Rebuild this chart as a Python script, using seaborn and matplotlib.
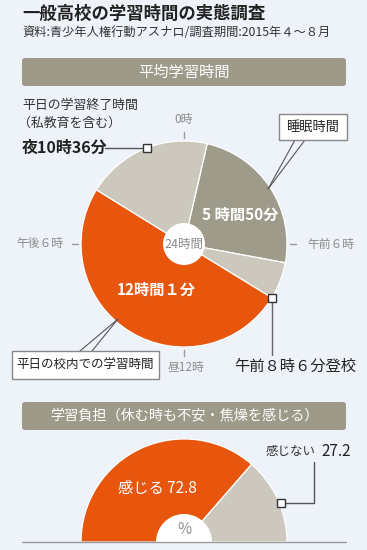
import numpy as np
import matplotlib
matplotlib.use("Agg")
import matplotlib.pyplot as plt
from matplotlib.patches import FancyBboxPatch, Rectangle, Circle
import seaborn as sns

# ---------------- data ----------------
title = "一般高校の学習時間の実態調査"
source = "資料:青少年人権行動アスナロ/調査期間:2015年４～８月"
header1 = "平均学習時間"
header2 = "学習負担（休む時も不安・焦燥を感じる）"

clock_segments = ["睡眠時間", "朝", "平日の校内での学習時間", "夜"]
clock_minutes = [350, 84, 721, 285]          # 5h50m, 1h24m, 12h01m, 4h45m
clock_start_min = 52                           # sleep starts ~0:52
study_end_min = 22 * 60 + 36                   # 夜10時36分
sleep_text = "5 時間50分"
school_text = "12時間１分"
study_end_text = "夜10時36分"
school_start_text = "午前８時６分登校"
hour_ticks = [0, 6, 12, 18]
hour_tick_labels = ["0時", "午前６時", "昼12時", "午後６時"]

burden_labels = ["感じる", "感じない"]
burden_values = [72.8, 27.2]

# ---------------- style ----------------
sns.set_theme(style="white")
plt.rcParams["font.family"] = ["Noto Sans CJK JP", "DejaVu Sans"]

BG = "#EEF2F9"
ORANGE = "#E8560E"
DARK = "#9E9B8A"
LIGHT = "#CCC8BD"
HEAD = "#9D9A89"
GRAYTXT = "#8C8C8C"
INK = "#222222"

W, H = 367, 550
fig = plt.figure(figsize=(W / 100, H / 100), dpi=100, facecolor=BG)
ax = fig.add_axes([0, 0, 1, 1])
ax.set_facecolor(BG)


def Y(y):
    return H - y


def clock_xy(cx, cy, r, minutes):
    a = np.deg2rad(90 - minutes / 1440 * 360)
    return cx + r * np.cos(a), cy + r * np.sin(a)


# ---------------- titles ----------------
ax.text(22, Y(14), title, fontsize=12.5, fontweight="bold", color=INK, ha="left", va="center")
ax.text(22, Y(33), source, fontsize=8.8, color="#333333", ha="left", va="center")


def header(y0, y1, text, fs):
    ax.add_patch(FancyBboxPatch((22, Y(y1)), 324, y1 - y0,
                                boxstyle="round,pad=0,rounding_size=3",
                                fc=HEAD, ec="none"))
    ax.text(184, Y((y0 + y1) / 2), text, fontsize=fs, color="white", ha="center", va="center")


header(58, 86, header1, 11)
header(402, 430, header2, 10.2)

# ---------------- clock pie ----------------
cx, cy, R = 184, Y(244), 103
start_angle = 90 - clock_start_min / 1440 * 360
wedges, _ = ax.pie(clock_minutes, colors=[DARK, LIGHT, ORANGE, LIGHT],
                   startangle=start_angle, counterclock=False,
                   center=(cx, cy), radius=R,
                   wedgeprops=dict(edgecolor="white", linewidth=0.9))
ax.add_patch(Circle((cx, cy), 21, fc="white", ec="none", zorder=3))
ax.text(cx, cy, "24時間", fontsize=9, color=GRAYTXT, ha="center", va="center", zorder=4)

# hour ticks
for h, lab in zip(hour_ticks, hour_tick_labels):
    m = h * 60
    x0, y0 = clock_xy(cx, cy, R + 3, m)
    x1, y1 = clock_xy(cx, cy, R + 9, m)
    ax.plot([x0, x1], [y0, y1], color="#999999", lw=1)
    lx, ly = clock_xy(cx, cy, R + 20, m)
    if h == 0:
        ax.text(lx, ly + 2, lab, fontsize=8.5, color=GRAYTXT, ha="center", va="center")
    elif h == 6:
        ax.text(lx, ly, lab, fontsize=8.5, color=GRAYTXT, ha="left", va="center")
    elif h == 12:
        ax.text(lx + 2, ly, lab, fontsize=8.5, color=GRAYTXT, ha="center", va="center")
    else:
        ax.text(lx + 2, ly, lab, fontsize=8.5, color=GRAYTXT, ha="right", va="center")

# segment value labels
ax.text(240, Y(215), sleep_text, fontsize=11, fontweight="bold", color="white", ha="center", va="center")
ax.text(156, Y(290), school_text, fontsize=11, fontweight="bold", color="white", ha="center", va="center")

# sleep callout
ax.plot([295, 268], [Y(140), Y(189)], color="#555555", lw=0.8)
ax.plot([305, 268], [Y(140), Y(189)], color="#555555", lw=0.8)
ax.add_patch(Rectangle((279, Y(140)), 68, 26, fc="white", ec="#888888", lw=1, zorder=5))
ax.text(313, Y(127), clock_segments[0], fontsize=9.5, color=INK, ha="center", va="center", zorder=6)

# school callout
ax.plot([80, 118], [Y(351), Y(319)], color="#555555", lw=0.8)
ax.plot([92, 118], [Y(351), Y(319)], color="#555555", lw=0.8)
ax.add_patch(Rectangle((12, Y(379)), 147, 28, fc="white", ec="#888888", lw=1, zorder=5))
ax.text(85.5, Y(365), clock_segments[2], fontsize=9, color=INK, ha="center", va="center", zorder=6)

# study end marker
ex, ey = clock_xy(cx, cy, R, study_end_min)
ax.plot([105, ex], [ey, ey], color="#555555", lw=1)
ax.plot([ex], [ey], marker="s", ms=5.5, mfc="white", mec="#333333", mew=1, zorder=6)
ax.text(22, ey, study_end_text, fontsize=11.5, fontweight="bold", color=INK, ha="left", va="center")
ax.text(22, Y(105), "平日の学習終了時間", fontsize=9.3, color="#333333", ha="left", va="center")
ax.text(18, Y(123), "（私教育を含む）", fontsize=9.3, color="#333333", ha="left", va="center")

# school start marker
school_start_min = clock_start_min + clock_minutes[0] + clock_minutes[1]
sx, sy = clock_xy(cx, cy, R, school_start_min)
ax.plot([sx, sx], [sy, Y(355)], color="#666666", lw=1)
ax.plot([sx], [sy], marker="s", ms=5.5, mfc="white", mec="#333333", mew=1, zorder=6)
ax.text(295, Y(366), school_start_text, fontsize=11, color=INK, ha="center", va="center")

# ---------------- burden half pie ----------------
bx, by, BR = 184, Y(542), 103
bw, _ = ax.pie(burden_values + [sum(burden_values)], colors=[ORANGE, LIGHT, "none"],
               startangle=180, counterclock=False, center=(bx, by), radius=BR,
               wedgeprops=dict(edgecolor="white", linewidth=0.9))
bw[2].set_edgecolor("none")
ax.add_patch(Circle((bx, by), 28, fc="white", ec="none", zorder=3))
ax.add_patch(Rectangle((0, 0), W, by, fc=BG, ec="none", zorder=3.5))
ax.plot([22, 346], [by, by], color="#999999", lw=1, zorder=4)
ax.text(bx, Y(530), "%", fontsize=11, color=GRAYTXT, ha="center", va="center", zorder=5)

ax.text(157, Y(488), f"{burden_labels[0]} {burden_values[0]}", fontsize=11, color="white",
        ha="center", va="center")

# marker for gray wedge
tot = sum(burden_values) * 2
mid_deg = 180 - (burden_values[0] + burden_values[1] * 0.55) / tot * 360
mx = bx + (BR + 2) * np.cos(np.deg2rad(mid_deg))
my = by + (BR + 2) * np.sin(np.deg2rad(mid_deg))
ax.plot([mx, 314, 314], [my, my, Y(462)], color="#555555", lw=1)
ax.plot([mx], [my], marker="s", ms=5.5, mfc="white", mec="#333333", mew=1, zorder=6)
ax.text(316, Y(452), burden_labels[1], fontsize=9, color="#333333", ha="right", va="center")
ax.text(321, Y(452), f"{burden_values[1]}", fontsize=11, color=INK, ha="left", va="center")

ax.set_xlim(0, W)
ax.set_ylim(0, H)
ax.set_aspect("equal")
ax.axis("off")

fig.savefig("out.png", dpi=100, facecolor=BG)
